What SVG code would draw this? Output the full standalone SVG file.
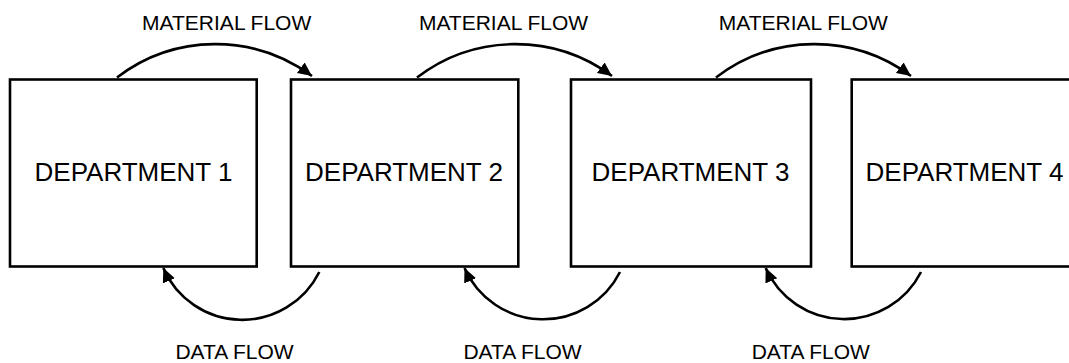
<svg xmlns="http://www.w3.org/2000/svg" width="1069" height="363" viewBox="0 0 1069 363">
<style>
.box{fill:#fff;stroke:#000;stroke-width:2.6}
.lbl{font-family:"Liberation Sans",Arial,sans-serif;font-size:26px;fill:#000;text-anchor:middle}
.flow{font-family:"Liberation Sans",Arial,sans-serif;font-size:21px;fill:#000;text-anchor:middle}
.arc{fill:none;stroke:#000;stroke-width:2.6;marker-end:url(#ah)}
</style>
<defs>
<marker id="ah" markerUnits="userSpaceOnUse" markerWidth="16" markerHeight="14" refX="14" refY="6.5" orient="auto">
<path d="M0,0 L14,6.5 L0,13 Z" fill="#000"/>
</marker>
</defs>
<rect width="1069" height="363" fill="#fff"/>
<g id="dept1"><rect class="box" x="10" y="79.5" width="246.7" height="187"/><text class="lbl" x="133.5" y="181">DEPARTMENT 1</text></g>
<g id="dept2"><rect class="box" x="291" y="79.5" width="227.3" height="187"/><text class="lbl" x="404" y="181">DEPARTMENT 2</text></g>
<g id="dept3"><rect class="box" x="571" y="79.5" width="240" height="187"/><text class="lbl" x="690.5" y="181">DEPARTMENT 3</text></g>
<g id="dept4"><rect class="box" x="851.7" y="79.5" width="228" height="187"/><text class="lbl" x="964.5" y="181">DEPARTMENT 4</text></g>
<g id="connectors">
<path class="arc" d="M117,77.5 A162,162 0 0 1 312,76"/>
<path class="arc" d="M417,77.5 A162,162 0 0 1 612,76"/>
<path class="arc" d="M716,77.5 A162,162 0 0 1 911,76"/>
<path class="arc" d="M319.3,272 A86,86 0 0 1 163.3,268"/>
<path class="arc" d="M620,272 A86,86 0 0 1 464.5,268"/>
<path class="arc" d="M921,272 A86,86 0 0 1 765.7,268"/>
<text class="flow" x="226.7" y="30">MATERIAL FLOW</text>
<text class="flow" x="503.5" y="30">MATERIAL FLOW</text>
<text class="flow" x="803.3" y="30">MATERIAL FLOW</text>
<text class="flow" x="234.5" y="359">DATA FLOW</text>
<text class="flow" x="522.5" y="359">DATA FLOW</text>
<text class="flow" x="810.8" y="359">DATA FLOW</text>
</g>
</svg>
